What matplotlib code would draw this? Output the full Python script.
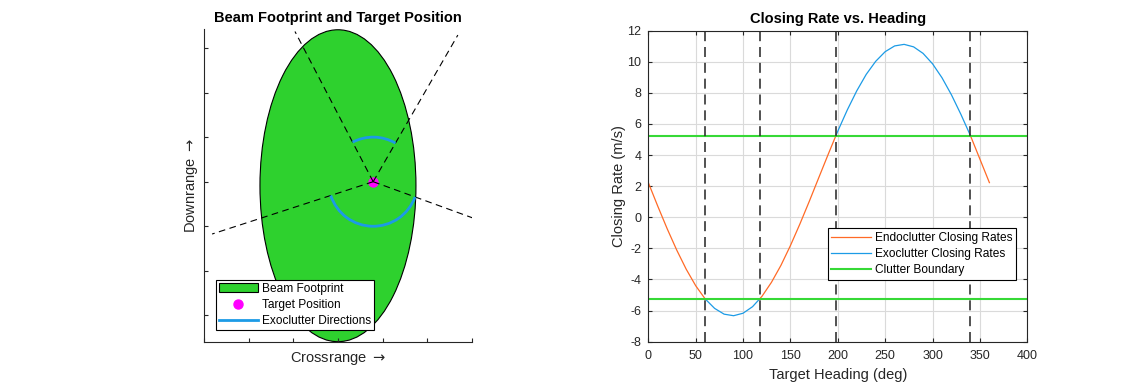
import numpy as np
import matplotlib.pyplot as plt
from matplotlib.patches import Ellipse, Arc, Patch
from matplotlib.lines import Line2D

plt.rcParams['font.family'] = ['Liberation Sans', 'DejaVu Sans']
plt.rcParams['axes.unicode_minus'] = False
plt.rcParams['mathtext.fontset'] = 'dejavusans'

# --- closing rate vs. target heading ---
heading_deg = [0, 10, 20, 30, 40, 50, 60, 70, 80, 90, 100, 110, 117.5, 120,
               130, 140, 150, 160, 170, 180, 190, 198, 200, 210, 220, 230,
               240, 250, 260, 270, 280, 290, 300, 310, 320, 330, 340, 350, 360]
closing_rate = [2.23, 0.71, -0.75, -2.11, -3.34, -4.40, -5.25, -5.86, -6.23,
                -6.33, -6.17, -5.75, -5.25, -5.08, -4.18, -3.09, -1.82, -0.43,
                1.04, 2.56, 4.07, 5.25, 5.54, 6.90, 8.13, 9.19, 10.03, 10.65,
                11.02, 11.12, 10.96, 10.54, 9.87, 8.97, 7.87, 6.61, 5.25, 3.74,
                2.23]
clutter_boundary = 5.25
boundary_headings = [60, 117.5, 198, 340]

# --- beam footprint geometry (arbitrary units) ---
footprint_center = (0.0, -0.09)
footprint_width = 3.5
footprint_height = 7.0
target_pos = (0.79, 0.0)
ray_length = 3.8
arc_radius = 1.0
exo_sectors = [(60, 117.5), (198, 340)]

endo_color = '#FF6A26'
exo_color = '#1C9BE6'
bound_color = '#36D936'
fill_color = '#2ED12E'
axis_color = '#262626'

hd = np.array(heading_deg)
cr = np.array(closing_rate)
endo = np.where(np.abs(cr) <= clutter_boundary + 1e-9, cr, np.nan)
exo = np.where(np.abs(cr) >= clutter_boundary - 1e-9, cr, np.nan)

fig = plt.figure(figsize=(11.36, 3.84), dpi=100)

# ---------------- left: beam footprint ----------------
ax1 = fig.add_axes([0.1798, 0.1102, 0.2354, 0.8135])
ax1.add_patch(Ellipse(footprint_center, footprint_width, footprint_height,
                      facecolor=fill_color, edgecolor='black', lw=0.8, zorder=1))
ax1.plot(target_pos[0], target_pos[1], 'o', color='magenta', ms=6.5, zorder=2)
for ang in boundary_headings:
    a = np.deg2rad(ang)
    ax1.plot([target_pos[0], target_pos[0] + ray_length * np.cos(a)],
             [target_pos[1], target_pos[1] + ray_length * np.sin(a)],
             color='black', lw=0.8, dashes=(6, 4), zorder=3)
for t1, t2 in exo_sectors:
    ax1.add_patch(Arc(target_pos, 2 * arc_radius, 2 * arc_radius,
                      theta1=t1, theta2=t2, color=exo_color, lw=2, zorder=4))

ax1.set_xlim(-3, 3)
ax1.set_ylim(-3.59, 3.42)
ax1.set_xticks(np.arange(-3, 4, 1))
ax1.set_yticks(np.arange(-3, 4, 1))
ax1.tick_params(direction='in', length=3, labelbottom=False, labelleft=False,
                color=axis_color)
for s in ['top', 'right']:
    ax1.spines[s].set_visible(False)
for s in ['left', 'bottom']:
    ax1.spines[s].set_color(axis_color)
ax1.set_title('Beam Footprint and Target Position', fontsize=10.5,
              fontweight='bold', pad=5.5)
ax1.set_xlabel('Crossrange $\\rightarrow$', fontsize=10.5, color=axis_color,
               labelpad=6)
ax1.set_ylabel('Downrange $\\rightarrow$', fontsize=10.5, color=axis_color,
               labelpad=3)

handles1 = [Patch(facecolor=fill_color, edgecolor='black', lw=0.8),
            Line2D([], [], marker='o', color='magenta', ls='none', ms=6.5),
            Line2D([], [], color=exo_color, lw=2)]
leg1 = ax1.legend(handles1, ['Beam Footprint', 'Target Position',
                             'Exoclutter Directions'],
                  loc='lower left', bbox_to_anchor=(0.043, 0.0375), fontsize=8.6,
                  fancybox=False, edgecolor='black', framealpha=1,
                  handlelength=3.3, handletextpad=0.35, borderpad=0.25,
                  labelspacing=0.35, borderaxespad=0)
leg1.get_frame().set_linewidth(0.8)

# ---------------- right: closing rate ----------------
ax2 = fig.add_axes([0.5707, 0.1102, 0.3336, 0.8099])
ax2.plot(hd, endo, color=endo_color, lw=0.9, label='Endoclutter Closing Rates')
ax2.plot(hd, exo, color=exo_color, lw=0.9, label='Exoclutter Closing Rates')
ax2.axhline(clutter_boundary, color=bound_color, lw=1.5, label='Clutter Boundary')
ax2.axhline(-clutter_boundary, color=bound_color, lw=1.5)
for h in boundary_headings:
    ax2.axvline(h, color='#333333', lw=1.2, dashes=(6, 3.5))

ax2.set_xlim(0, 400)
ax2.set_ylim(-8, 12)
ax2.set_xticks(np.arange(0, 401, 50))
ax2.set_yticks(np.arange(-8, 13, 2))
ax2.grid(True, color='#DADADA', lw=0.8)
ax2.set_axisbelow(True)
ax2.tick_params(direction='in', length=3, labelsize=9, colors=axis_color,
                top=True, right=True)
ax2.tick_params(axis='x', pad=6)
ax2.tick_params(axis='y', pad=5)
for s in ax2.spines.values():
    s.set_color(axis_color)
ax2.set_title('Closing Rate vs. Heading', fontsize=10.5, fontweight='bold', pad=5.5)
ax2.set_xlabel('Target Heading (deg)', fontsize=10.5, color=axis_color, labelpad=4)
ax2.set_ylabel('Closing Rate (m/s)', fontsize=10.5, color=axis_color, labelpad=1)

leg2 = ax2.legend(loc='upper left', bbox_to_anchor=(0.473, 0.3646), fontsize=8.6,
                  fancybox=False, edgecolor='black', framealpha=1,
                  handlelength=3.3, handletextpad=0.4, borderpad=0.3,
                  labelspacing=0.35, borderaxespad=0)
leg2.get_frame().set_linewidth(0.8)

plt.savefig('out.png', dpi=100)
